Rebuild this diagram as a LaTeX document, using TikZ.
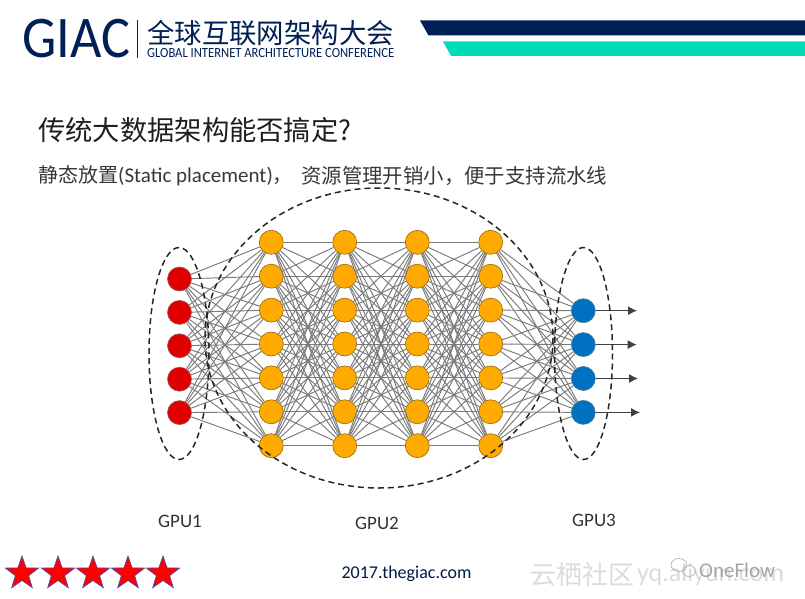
\documentclass[tikz,border=0pt]{standalone}
\usepackage{fontspec}
\setmainfont{Carlito}
\newfontfamily\cjk{Noto Sans CJK SC}
\newfontfamily\giacfont[FakeStretch=.92]{Carlito}
\newfontfamily\confont[FakeStretch=.9]{Carlito}
\usetikzlibrary{arrows.meta,shapes.geometric}
\definecolor{giacnavy}{HTML}{001F54}
\definecolor{giacteal}{HTML}{00DCB8}
\definecolor{inred}{HTML}{E00000}
\definecolor{hidorange}{HTML}{FFAA00}
\definecolor{outblue}{HTML}{0070C0}
\tikzset{
  unit/.style={circle, minimum size=24pt, inner sep=0pt, line width=0.6pt},
  inunit/.style={unit, fill=inred, draw=gray!70!inred},
  hidunit/.style={unit, fill=hidorange, draw=black!40!hidorange},
  outunit/.style={unit, fill=outblue, draw=gray!60!outblue},
  wire/.style={draw=black!52, line width=0.95pt},
  gpuring/.style={dashed, dash pattern=on 6pt off 4pt, line width=1.5pt, draw=black!85},
  gpulabel/.style={font=\fontsize{19}{19}\selectfont, text=black!80, inner sep=0pt},
  ratestar/.style={star, star points=5, star point ratio=2.5, minimum size=35pt, inner sep=0pt, fill=red, draw=blue!40!gray, line width=0.7pt},
  mark text/.style={text=black!14, inner sep=0pt}
}
\begin{document}
\begin{tikzpicture}[x=1pt, y=-1pt]
  \useasboundingbox (0, 0) rectangle (805, 599);
  % header
  \node[font=\giacfont\fontsize{59}{59}\selectfont, text=giacnavy, anchor=west, inner sep=0pt] (giac) at (22, 39) {GIAC};
  \draw[giacnavy, line width=1.2pt] (137.5, 20) -- (137.5, 58);
  \node[font=\cjk\fontsize{27.4}{27.4}\selectfont, text=giacnavy, anchor=west, inner sep=0pt] (confcn) at (147, 33) {全球互联网架构大会};
  \node[font=\confont\fontsize{14}{14}\selectfont, text=giacnavy, anchor=west, inner sep=0pt] (confen) at (147, 53) {GLOBAL INTERNET ARCHITECTURE CONFERENCE};
  \fill[giacnavy] (420, 20.5) -- (805, 20.5) -- (805, 35.5) -- (428.5, 35.5) -- cycle;
  \fill[giacteal] (443, 41.5) -- (805, 41.5) -- (805, 56) -- (451, 56) -- cycle;
  % title
  \node[font=\cjk\fontsize{27.3}{27.3}\selectfont, text=black!88, anchor=west, inner sep=0pt] (title) at (38, 130) {传统大数据架构能否搞定?};
  \node[font=\fontsize{21}{21}\selectfont, text=black!78, anchor=west, inner sep=0pt] (subtitle) at (38, 176) {{\cjk\fontsize{20}{20}\selectfont 静态放置}(Static placement){\cjk\fontsize{20}{20}\selectfont ，}};
  \node[font=\cjk\fontsize{20.4}{20.4}\selectfont, text=black!78, anchor=west, inner sep=0pt] (subtitleb) at (301, 176) {资源管理开销小，便于支持流水线};
  % units
  \foreach \j in {1,...,5} \node[inunit] (in\j) at (179.5, {279+(\j-1)*33.4}) {};
  \foreach \col/\px in {a/271.3, b/344.7, c/417.3, d/490.7}
    \foreach \j in {1,...,7} \node[hidunit] (\col\j) at (\px, {242.3+(\j-1)*33.9}) {};
  \foreach \j in {1,...,4} \node[outunit] (out\j) at (583.3, {310.7+(\j-1)*33.9}) {};
  % wires
  \foreach \i in {1,...,5} \foreach \j in {1,...,7} \draw[wire] (in\i) -- (a\j);
  \foreach \i in {1,...,7} \foreach \j in {1,...,7} {
    \draw[wire] (a\i) -- (b\j);
    \draw[wire] (b\i) -- (c\j);
    \draw[wire] (c\i) -- (d\j);
  }
  \foreach \i in {1,...,7} \foreach \j in {1,...,4} \draw[wire] (d\i) -- (out\j);
  % outputs
  \foreach \j/\px in {1/637, 2/636.7, 3/638, 4/640} {
    \coordinate (end\j) at (\px, {310.7+(\j-1)*33.9});
    \draw[-{Latex[length=9pt,width=9pt]}, line width=1.1pt, draw=black!75, fill=black] (out\j) -- (end\j);
  }
  % gpu groups
  \draw[gpuring] (179, 353.5) ellipse (30 and 106);
  \draw[gpuring] (379, 338) ellipse (174 and 150);
  \draw[gpuring] (583.5, 353.5) ellipse (29 and 106);
  \node[gpulabel] (gpua) at (180, 521) {GPU1};
  \node[gpulabel] (gpub) at (377, 523) {GPU2};
  \node[gpulabel] (gpuc) at (594, 520) {GPU3};
  % footer
  \foreach \j/\px in {1/22, 2/58, 3/93, 4/128, 5/163} \node[ratestar] (star\j) at (\px, 573.5) {};
  \node[font=\fontsize{18}{18}\selectfont, text=giacnavy!85!black, inner sep=0pt] (site) at (406.5, 574) {2017.thegiac.com};
  \node[mark text, font=\cjk\fontsize{26}{26}\selectfont, anchor=west] (markcn) at (530, 575) {云栖社区};
  \node[mark text, font=\fontsize{26}{26}\selectfont, anchor=west] (markurl) at (637, 575) {yq.aliyun.com};
  \draw[black!30, line width=0.7pt] (679, 565) ellipse (8 and 6.5);
  \draw[black!30, line width=0.7pt] (689, 571) ellipse (6.5 and 5.5);
  \node[font=\fontsize{21}{21}\selectfont, text=black!35, anchor=west, inner sep=0pt] (oneflow) at (699, 570) {OneFlow};
\end{tikzpicture}
\end{document}
